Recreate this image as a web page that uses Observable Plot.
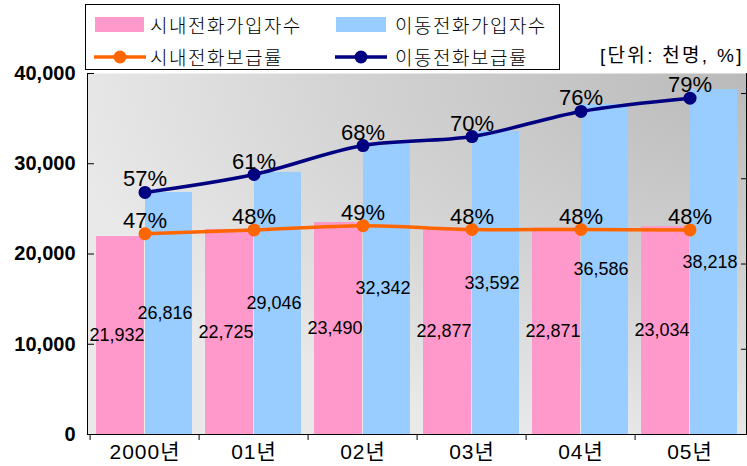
<!DOCTYPE html>
<html><head><meta charset="utf-8">
<script src="https://cdn.jsdelivr.net/npm/d3@7"></script>
<script src="https://cdn.jsdelivr.net/npm/@observablehq/plot@0.6"></script>
<style>
body{margin:0;background:#fff;}
#wrap{position:relative;width:747px;height:466px;overflow:hidden;font-family:"Liberation Sans","Noto Sans CJK KR",sans-serif;}
#chart{position:absolute;left:0;top:0;}
.abs{position:absolute;}
.lt{position:absolute;font-family:"Noto Sans CJK KR",sans-serif;font-weight:300;font-size:19px;letter-spacing:1.5px;height:24px;line-height:24px;white-space:nowrap;color:#000;}
</style></head><body>
<div id="wrap">
<div id="chart"></div>
<div class="abs" style="left:85px;top:4px;width:473px;height:64px;border:1px solid #000;background:#fff;"></div>
<div class="abs" id="sw0" style="left:95px;top:17px;width:49px;height:15px;"></div>
<div class="lt" id="lt0" style="left:150px;top:13px;"></div>
<div class="abs" id="sw1" style="left:336px;top:17px;width:50px;height:15px;"></div>
<div class="lt" id="lt1" style="left:395px;top:13px;"></div>
<svg class="abs" id="sw2" style="left:94px;top:50px;" width="52" height="14"></svg>
<div class="lt" id="lt2" style="left:150px;top:45px;"></div>
<svg class="abs" id="sw3" style="left:335px;top:50px;" width="52" height="14"></svg>
<div class="lt" id="lt3" style="left:395px;top:45px;"></div>
<div class="lt" id="unit" style="left:600px;top:44px;font-size:19px;letter-spacing:2.3px;font-weight:400;font-family:'Liberation Sans','Noto Sans CJK KR',sans-serif;"></div>
</div>
<script>
const years = ["2000년", "01년", "02년", "03년", "04년", "05년"];
const fixedSubs = [21932, 22725, 23490, 22877, 22871, 23034];
const mobileSubs = [26816, 29046, 32342, 33592, 36586, 38218];
const fixedRate = [47.1, 48.0, 49.0, 48.1, 48.1, 48.0];
const mobileRate = [56.8, 61.0, 67.8, 69.9, 75.8, 78.9];
const yTicks = [0, 10000, 20000, 30000, 40000];
const rateTicks = [20, 40, 60, 80];
const yMax = 40000;
const rateMax = 84.7;
const seriesNames = ["시내전화가입자수", "이동전화가입자수", "시내전화보급률", "이동전화보급률"];
const unitLabel = "[단위: 천명, %]";
const colors = {fixedBar: "#ff99cc", mobileBar: "#99ccff", fixedLine: "#ff6600", mobileLine: "#000080"};

const toY = p => p * yMax / rateMax;
const fmt = d3.format(",");
const fixed = years.map((year, i) => ({year, value: fixedSubs[i], rate: fixedRate[i]}));
const mobile = years.map((year, i) => ({year, value: mobileSubs[i], rate: mobileRate[i]}));
const numFont = "Liberation Sans, Noto Sans CJK KR, sans-serif";

const plot = Plot.plot({
  width: 747, height: 466,
  marginTop: 73, marginBottom: 32, marginLeft: 87, marginRight: 1,
  x: {domain: years, padding: 0},
  y: {domain: [0, yMax]},
  style: {fontFamily: numFont, background: "transparent", color: "#000"},
  marks: [
    Plot.frame({fill: "url(#bgGrad)"}),
    Plot.barY(fixed, {x: "year", y: "value", fill: colors.fixedBar, insetLeft: 6, insetRight: 55}),
    Plot.barY(mobile, {x: "year", y: "value", fill: colors.mobileBar, insetLeft: 55, insetRight: 7}),
    Plot.text(fixed, {x: "year", y: d => d.value / 2, text: d => fmt(d.value), dx: -28, fontSize: 18, fill: "#000"}),
    Plot.text(mobile, {x: "year", y: d => d.value / 2, text: d => fmt(d.value), dx: 20, fontSize: 18, fill: "#000"}),
    Plot.line(fixed, {x: "year", y: d => toY(d.rate), stroke: colors.fixedLine, strokeWidth: 3.5, curve: "catmull-rom"}),
    Plot.dot(fixed, {x: "year", y: d => toY(d.rate), r: 6.5, fill: colors.fixedLine}),
    Plot.line(mobile, {x: "year", y: d => toY(d.rate), stroke: colors.mobileLine, strokeWidth: 3.5, curve: "catmull-rom"}),
    Plot.dot(mobile, {x: "year", y: d => toY(d.rate), r: 6.5, fill: colors.mobileLine}),
    Plot.text(fixed, {x: "year", y: d => toY(d.rate), text: d => Math.round(d.rate) + "%", dy: -13, fontSize: 22, fill: "#000"}),
    Plot.text(mobile, {x: "year", y: d => toY(d.rate), text: d => Math.round(d.rate) + "%", dy: -13, fontSize: 22, fill: "#000"}),
    Plot.axisY({ticks: yTicks, tickSize: 0, tickPadding: 12, fontSize: 20, fontWeight: "bold", tickFormat: d3.format(","), label: null}),
    Plot.axisY({ticks: yTicks, tickSize: -7, tickFormat: () => "", label: null}),
    Plot.axisY({anchor: "right", ticks: rateTicks.map(toY), tickSize: -6, tickFormat: () => "", label: null}),
    Plot.axisX({tickSize: 0, tickPadding: 10, fontSize: 21, letterSpacing: 1, label: null}),
    Plot.axisX({tickSize: 6, tickFormat: () => "", dx: -54.9, label: null}),
    Plot.frame({anchor: "left"}),
    Plot.frame({anchor: "right"}),
    Plot.frame({anchor: "bottom"})
  ]
});
d3.select(plot).insert("defs", ":first-child").html(
  '<radialGradient id="bgGrad" cx="1" cy="0" r="1.05" fx="1" fy="0">' +
  '<stop offset="0" stop-color="#bababa"/><stop offset="0.55" stop-color="#d2d2d2"/><stop offset="1" stop-color="#e9e9e9"/></radialGradient>');
d3.select(plot).selectAll("[aria-label='x-axis tick label'] text").style("letter-spacing", "1px");
document.getElementById("chart").appendChild(plot);

document.getElementById("sw0").style.background = colors.fixedBar;
document.getElementById("sw1").style.background = colors.mobileBar;
[["sw2", colors.fixedLine], ["sw3", colors.mobileLine]].forEach(([id, c]) => {
  const s = d3.select("#" + id);
  s.append("line").attr("x1", 0).attr("x2", 52).attr("y1", 7).attr("y2", 7).attr("stroke", c).attr("stroke-width", 3.5);
  s.append("circle").attr("cx", 26).attr("cy", 7).attr("r", 6.5).attr("fill", c);
});
seriesNames.forEach((n, i) => document.getElementById("lt" + i).textContent = n);
document.getElementById("unit").textContent = unitLabel;
</script>
</body></html>
